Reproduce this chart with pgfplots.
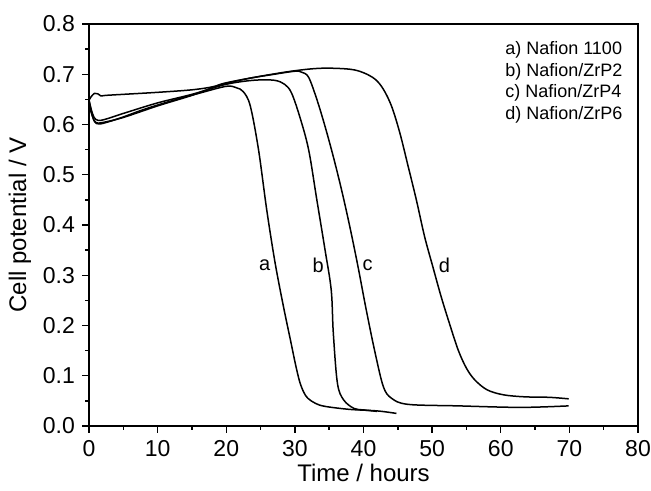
\documentclass[border=0pt]{standalone}
\usepackage{fontspec}
\setmainfont{Liberation Sans}
\usepackage{pgfplots}
\pgfplotsset{compat=1.18}

\begin{document}
\begin{tikzpicture}
\begin{axis}[
    width=274.5pt, height=201pt, scale only axis,
    xmin=0, xmax=80, ymin=0, ymax=0.8,
    xtick={0,10,...,80}, ytick={0,0.1,...,0.8},
    minor x tick num=1, minor y tick num=1,
    tick pos=left, tick align=outside,
    major tick length=3.5pt, minor tick length=2pt,
    axis line style={line width=0.8pt},
    every tick/.style={line width=0.7pt, black},
    /pgf/number format/assume math mode=true,
    /pgf/number format/fixed, /pgf/number format/fixed zerofill,
    yticklabel style={/pgf/number format/precision=1, font=\fontsize{11.5}{13}\selectfont},
    xticklabel style={/pgf/number format/precision=0, font=\fontsize{11.5}{13}\selectfont},
    xlabel={Time / hours}, ylabel={Cell potential / V},
    label style={font=\fontsize{12}{14}\selectfont},
    xlabel style={yshift=3pt},
    ylabel style={yshift=-1pt},
    cycle list={{black, no marks}},
    every axis plot post/.append style={line width=0.75pt, smooth, tension=0.55},
  ]
  % a) Nafion 1100
  \addplot coordinates {
    (0,0.650)(0.3,0.628)(0.8,0.606)(1.5,0.601)(3,0.606)(5,0.615)(8,0.630)
    (12,0.647)(16,0.662)(20,0.676)(21.5,0.673)(22.5,0.665)(23.5,0.637)
    (24.7,0.550)(25.9,0.430)(27.1,0.326)(28.3,0.240)(29.4,0.168)(30.1,0.122)
    (30.7,0.088)(31.3,0.067)(31.9,0.055)(33,0.045)(34.4,0.039)(38,0.033)(42,0.030)(44.8,0.025)
  };
  % b) Nafion/ZrP2
  \addplot coordinates {
    (0,0.648)(0.5,0.622)(1,0.610)(2,0.609)(5,0.622)(10,0.643)(15,0.660)
    (20,0.680)(24,0.688)(27,0.688)(28.5,0.680)(29.5,0.663)(30.7,0.616)
    (32,0.550)(33.2,0.450)(34.4,0.350)(35.3,0.270)(35.6,0.185)(36.2,0.085)
    (37.1,0.052)(38.6,0.035)(40,0.032)(42,0.029)
  };
  % c) Nafion/ZrP4
  \addplot coordinates {
    (0,0.640)(0.5,0.616)(1,0.604)(2,0.604)(5,0.614)(10,0.637)(15,0.658)
    (19,0.678)(23,0.691)(27,0.700)(30,0.706)(31,0.704)(32,0.694)(33.2,0.650)
    (34.4,0.596)(35.6,0.536)(36.8,0.470)(38,0.397)(39.2,0.317)(40.4,0.231)
    (41.7,0.145)(42.9,0.078)(44.1,0.055)(46.5,0.043)(53.8,0.040)(62.9,0.037)(69.9,0.040)
  };
  % d) Nafion/ZrP6
  \addplot coordinates {
    (0,0.648)(0.3,0.655)(0.8,0.662)(1.3,0.661)(1.7,0.657)(2.5,0.658)(5,0.660)
    (10,0.664)(15,0.669)(18,0.675)(20,0.683)(25,0.696)(30,0.707)(34,0.712)
    (38,0.710)(40,0.703)(41.7,0.690)(42.9,0.670)(44.1,0.636)(45.3,0.583)
    (46.5,0.517)(47.7,0.450)(48.9,0.377)(50.1,0.317)(51.3,0.258)(52.5,0.205)
    (53.8,0.151)(55,0.115)(56.2,0.092)(58,0.072)(60.4,0.062)(63.5,0.058)
    (67.1,0.057)(69.9,0.054)
  };
  \node[font=\fontsize{10}{11}\selectfont] at (axis cs:25.6,0.319) {a};
  \node[font=\fontsize{10}{11}\selectfont] at (axis cs:33.4,0.319) {b};
  \node[font=\fontsize{10}{11}\selectfont] at (axis cs:40.6,0.319) {c};
  \node[font=\fontsize{10}{11}\selectfont] at (axis cs:51.8,0.319) {d};
  \node[anchor=north west, align=left, inner sep=0pt,
        font=\fontsize{9}{10.8}\selectfont] at (axis cs:60.6,0.766)
    {a) Nafion 1100\\ b) Nafion/ZrP2\\ c) Nafion/ZrP4\\ d) Nafion/ZrP6};
\end{axis}
\pgfresetboundingbox
\path ([shift={(-44.5pt,-32.5pt)}]current axis.south west) rectangle
      ([shift={(6.5pt,12pt)}]current axis.north east);
\end{tikzpicture}
\end{document}
